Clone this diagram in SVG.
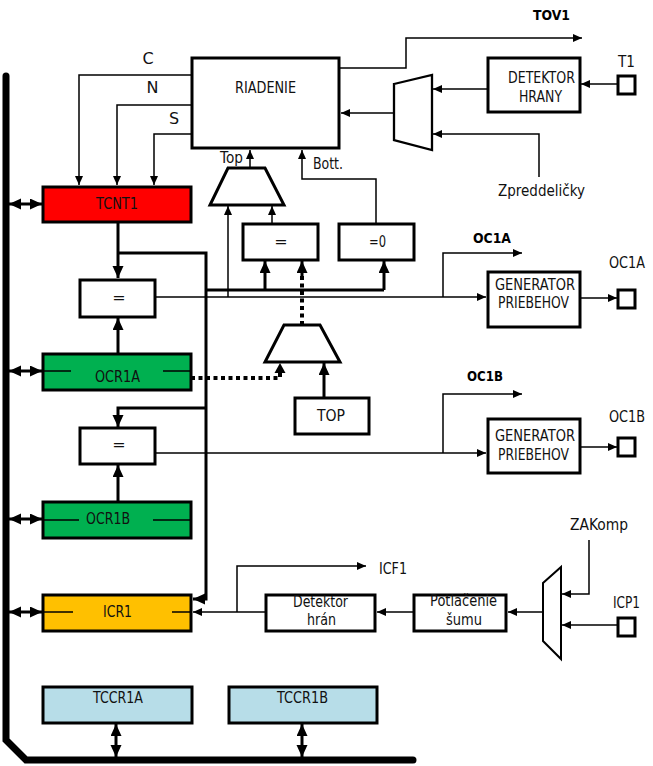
<svg xmlns="http://www.w3.org/2000/svg" width="653" height="766" viewBox="0 0 653 766">
<style>
.box{fill:#fff;stroke:#000;stroke-width:3}
.thin{fill:none;stroke:#000;stroke-width:1.5}
.thick{fill:none;stroke:#000;stroke-width:3}
.dot{fill:none;stroke:#000;stroke-width:4;stroke-dasharray:4 3.5}
.t{font-family:"DejaVu Sans",sans-serif;font-size:16px;fill:#111}
.b{font-family:"DejaVu Sans",sans-serif;font-size:14px;font-weight:bold;fill:#000}
.m{text-anchor:middle}
.a{marker-end:url(#ar)}
.ak{marker-end:url(#ark)}
.dd{marker-start:url(#ark);marker-end:url(#ark)}
</style>
<defs>
<marker id="ar" markerUnits="userSpaceOnUse" markerWidth="10" markerHeight="10" refX="9" refY="4" orient="auto-start-reverse"><path d="M0,0 L9,4 L0,8 z" fill="#000"/></marker>
<marker id="ark" markerUnits="userSpaceOnUse" markerWidth="13" markerHeight="12" refX="12" refY="5.5" orient="auto-start-reverse"><path d="M0,0 L12,5.5 L0,11 z" fill="#000"/></marker>
</defs>

<g id="bus"><path d="M6,76 V740 L26,760 H413" fill="none" stroke="#000" stroke-width="7" stroke-linecap="round"/></g>

<g id="connectors">
<polyline class="thin a" points="192,75 79,75 79,185"/>
<polyline class="thin a" points="192,105 117,105 117,185"/>
<polyline class="thin a" points="192,134 154,134 154,185"/>
<polyline class="thin a" points="339,68 406,68 406,38 582,38"/>
<line class="thin a" x1="394" y1="113" x2="341" y2="113"/>
<line class="thin a" x1="487" y1="89" x2="433" y2="89"/>
<polyline class="thin a" points="539,177 539,134 433,134"/>
<line class="thin a" x1="617" y1="84" x2="581" y2="84"/>
<line class="thin a" x1="250" y1="168" x2="250" y2="150"/>
<polyline class="thin a" points="376,223 376,179 302,179 302,150"/>
<line class="thin a" x1="228" y1="297" x2="228" y2="206"/>
<line class="thin a" x1="272" y1="223" x2="272" y2="206"/>
<polyline class="thick" points="206,290 384,290"/>
<line class="thick ak" x1="265" y1="290" x2="265" y2="261"/>
<line class="thick ak" x1="384" y1="290" x2="384" y2="261"/>
<line class="dot" x1="302" y1="325" x2="302" y2="275"/>
<line class="thick ak" x1="302" y1="278" x2="302" y2="261"/>
<line class="thin a" x1="155" y1="297" x2="486" y2="297"/>
<polyline class="thin a" points="443,297 443,253 522,253"/>
<line class="thin a" x1="580" y1="298" x2="617" y2="298"/>
<polyline class="thick ak" points="118,222 118,278"/>
<path class="thick ak" d="M118,253 H206 V599 H193"/>
<path class="thick ak" d="M206,408 H118 V427"/>
<line class="thick ak" x1="118" y1="353" x2="118" y2="318"/>
<path class="dot" d="M191,378 H280 V372"/>
<path d="M274.5,373 L280,363 L285.5,373 z" fill="#000"/>
<line class="thick ak" x1="324" y1="397" x2="324" y2="363"/>
<line class="thick ak" x1="118" y1="501" x2="118" y2="465"/>
<line class="thin a" x1="155" y1="453" x2="486" y2="453"/>
<polyline class="thin a" points="443,453 443,394 522,394"/>
<line class="thin a" x1="580" y1="447" x2="617" y2="447"/>
<line class="thin a" x1="265" y1="612" x2="193" y2="612"/>
<polyline class="thin a" points="237,612 237,566 366,566"/>
<line class="thin a" x1="413" y1="612" x2="377" y2="612"/>
<line class="thin a" x1="543" y1="612" x2="508" y2="612"/>
<polyline class="thin a" points="589,540 589,594 562,594"/>
<line class="thin a" x1="617" y1="625" x2="562" y2="625"/>
<line class="thick dd" x1="9" y1="204" x2="42" y2="204"/>
<line class="thick dd" x1="9" y1="371" x2="42" y2="371"/>
<line class="thick dd" x1="9" y1="519" x2="42" y2="519"/>
<line class="thick dd" x1="9" y1="612" x2="42" y2="612"/>
<line class="thick dd" x1="116" y1="724" x2="116" y2="757"/>
<line class="thick dd" x1="302" y1="724" x2="302" y2="757"/>
</g>

<g id="riadenie"><rect class="box" x="192" y="58" width="147" height="90"/><text class="t m" x="265.5" y="93" textLength="61" lengthAdjust="spacingAndGlyphs">RIADENIE</text></g>
<g id="labels-cns">
<text class="t m" x="148" y="64">C</text>
<text class="t m" x="152.5" y="93">N</text>
<text class="t m" x="174" y="124">S</text>
<text class="t m" x="231.5" y="163" textLength="23" lengthAdjust="spacingAndGlyphs" fill="#4a3c3c">Top</text>
<text class="t m" x="328" y="169" textLength="30" lengthAdjust="spacingAndGlyphs">Bott.</text>
</g>
<g id="tov1"><text class="b m" x="551.5" y="20" textLength="37" lengthAdjust="spacingAndGlyphs">TOV1</text></g>
<g id="mux1"><polygon points="394,84 432,75 432,150 394,140" fill="#fff" stroke="#000" stroke-width="2.3"/></g>
<g id="detektor-hrany"><rect class="box" x="488" y="58" width="92" height="54"/><text class="t m" x="541.5" y="83" textLength="67" lengthAdjust="spacingAndGlyphs">DETEKTOR</text><text class="t m" x="540.5" y="102" textLength="43" lengthAdjust="spacingAndGlyphs">HRANY</text></g>
<g id="t1"><rect class="box" x="618" y="76" width="17" height="18"/><text class="t m" x="626.5" y="67" textLength="17" lengthAdjust="spacingAndGlyphs">T1</text></g>
<g id="zpreddelicky"><text class="t m" x="541.5" y="196" textLength="87" lengthAdjust="spacingAndGlyphs">Zpreddeličky</text></g>

<g id="tcnt1"><rect x="43" y="187" width="148" height="35" fill="#ff0000" stroke="#000" stroke-width="3"/><text class="t m" x="117" y="209" textLength="42" lengthAdjust="spacingAndGlyphs">TCNT1</text></g>
<g id="mux-top"><polygon points="228,168 265,168 284,205 210,205" fill="#fff" stroke="#000" stroke-width="3"/></g>
<g id="cmp-top"><rect class="box" x="243" y="224" width="75" height="36"/><text class="t m" x="281" y="247">=</text></g>
<g id="cmp-zero"><rect class="box" x="339" y="224" width="75" height="36"/><text class="t m" x="377.5" y="247" textLength="17" lengthAdjust="spacingAndGlyphs">=0</text></g>

<g id="oc1a-flag"><text class="b m" x="492" y="243" textLength="38" lengthAdjust="spacingAndGlyphs">OC1A</text></g>
<g id="gen-a"><rect class="box" x="488" y="272" width="92" height="55"/><text class="t m" x="535" y="290" textLength="80" lengthAdjust="spacingAndGlyphs">GENERATOR</text><text class="t m" x="533.5" y="308" textLength="71" lengthAdjust="spacingAndGlyphs">PRIEBEHOV</text></g>
<g id="oc1a-pin"><rect class="box" x="618" y="290" width="17" height="18"/><text class="t m" x="627" y="268" textLength="36" lengthAdjust="spacingAndGlyphs">OC1A</text></g>

<g id="cmp-a"><rect class="box" x="80" y="280" width="75" height="37"/><text class="t m" x="119" y="303">=</text></g>
<g id="ocr1a"><rect x="43" y="354" width="148" height="36" fill="#00b050" stroke="#000" stroke-width="3"/><line class="thin" x1="43" y1="371" x2="71" y2="371"/><line class="thin" x1="163" y1="371" x2="191" y2="371"/><text class="t m" x="117.5" y="382" textLength="45" lengthAdjust="spacingAndGlyphs">OCR1A</text></g>
<g id="mux-ocr"><polygon points="284,325 320,325 340,362 265,362" fill="#fff" stroke="#000" stroke-width="3"/></g>
<g id="top"><rect class="box" x="295" y="398" width="74" height="36"/><text class="t m" x="331" y="421" textLength="28" lengthAdjust="spacingAndGlyphs">TOP</text></g>

<g id="oc1b-flag"><text class="b m" x="485" y="381" textLength="36" lengthAdjust="spacingAndGlyphs">OC1B</text></g>
<g id="gen-b"><rect class="box" x="488" y="419" width="92" height="54"/><text class="t m" x="535" y="441" textLength="80" lengthAdjust="spacingAndGlyphs">GENERATOR</text><text class="t m" x="533.5" y="460" textLength="71" lengthAdjust="spacingAndGlyphs">PRIEBEHOV</text></g>
<g id="oc1b-pin"><rect class="box" x="618" y="438" width="17" height="18"/><text class="t m" x="627" y="422" textLength="36" lengthAdjust="spacingAndGlyphs">OC1B</text></g>

<g id="cmp-b"><rect class="box" x="80" y="428" width="75" height="36"/><text class="t m" x="119" y="450">=</text></g>
<g id="ocr1b"><rect x="43" y="502" width="148" height="36" fill="#00b050" stroke="#000" stroke-width="3"/><line class="thin" x1="43" y1="520" x2="79" y2="520"/><line class="thin" x1="153" y1="520" x2="191" y2="520"/><text class="t m" x="108" y="524" textLength="44" lengthAdjust="spacingAndGlyphs">OCR1B</text></g>

<g id="icr1"><rect x="43" y="595" width="148" height="36" fill="#ffc000" stroke="#000" stroke-width="3"/><line class="thin" x1="43" y1="612" x2="73" y2="612"/><line class="thin" x1="172" y1="612" x2="191" y2="612"/><text class="t m" x="117.5" y="617" textLength="29" lengthAdjust="spacingAndGlyphs">ICR1</text></g>
<g id="icf1"><text class="t m" x="393" y="574" textLength="28" lengthAdjust="spacingAndGlyphs">ICF1</text></g>
<g id="detektor-hran"><rect class="box" x="266" y="595" width="109" height="36"/><text class="t m" x="320.5" y="607" textLength="55" lengthAdjust="spacingAndGlyphs">Detektor</text><text class="t m" x="321.5" y="625" textLength="29" lengthAdjust="spacingAndGlyphs">hrán</text></g>
<g id="potlacenie"><rect class="box" x="414" y="595" width="92" height="36"/><text class="t m" x="463.5" y="606" textLength="67" lengthAdjust="spacingAndGlyphs">Potlačenie</text><text class="t m" x="464" y="625" textLength="36" lengthAdjust="spacingAndGlyphs">šumu</text></g>
<g id="mux-icp"><polygon points="561,567 561,659 543,641 543,583" fill="#fff" stroke="#000" stroke-width="2"/></g>
<g id="zakomp"><text class="t m" x="599" y="530" textLength="58" lengthAdjust="spacingAndGlyphs">ZAKomp</text></g>
<g id="icp1"><rect class="box" x="618" y="618" width="17" height="18"/><text class="t m" x="626.5" y="608" textLength="27" lengthAdjust="spacingAndGlyphs">ICP1</text></g>

<g id="tccr1a"><rect x="43" y="687" width="149" height="36" fill="#b7dde8" stroke="#000" stroke-width="3"/><text class="t m" x="118" y="703" textLength="50" lengthAdjust="spacingAndGlyphs">TCCR1A</text></g>
<g id="tccr1b"><rect x="229" y="687" width="148" height="36" fill="#b7dde8" stroke="#000" stroke-width="3"/><text class="t m" x="302.5" y="703" textLength="51" lengthAdjust="spacingAndGlyphs">TCCR1B</text></g>
</svg>
